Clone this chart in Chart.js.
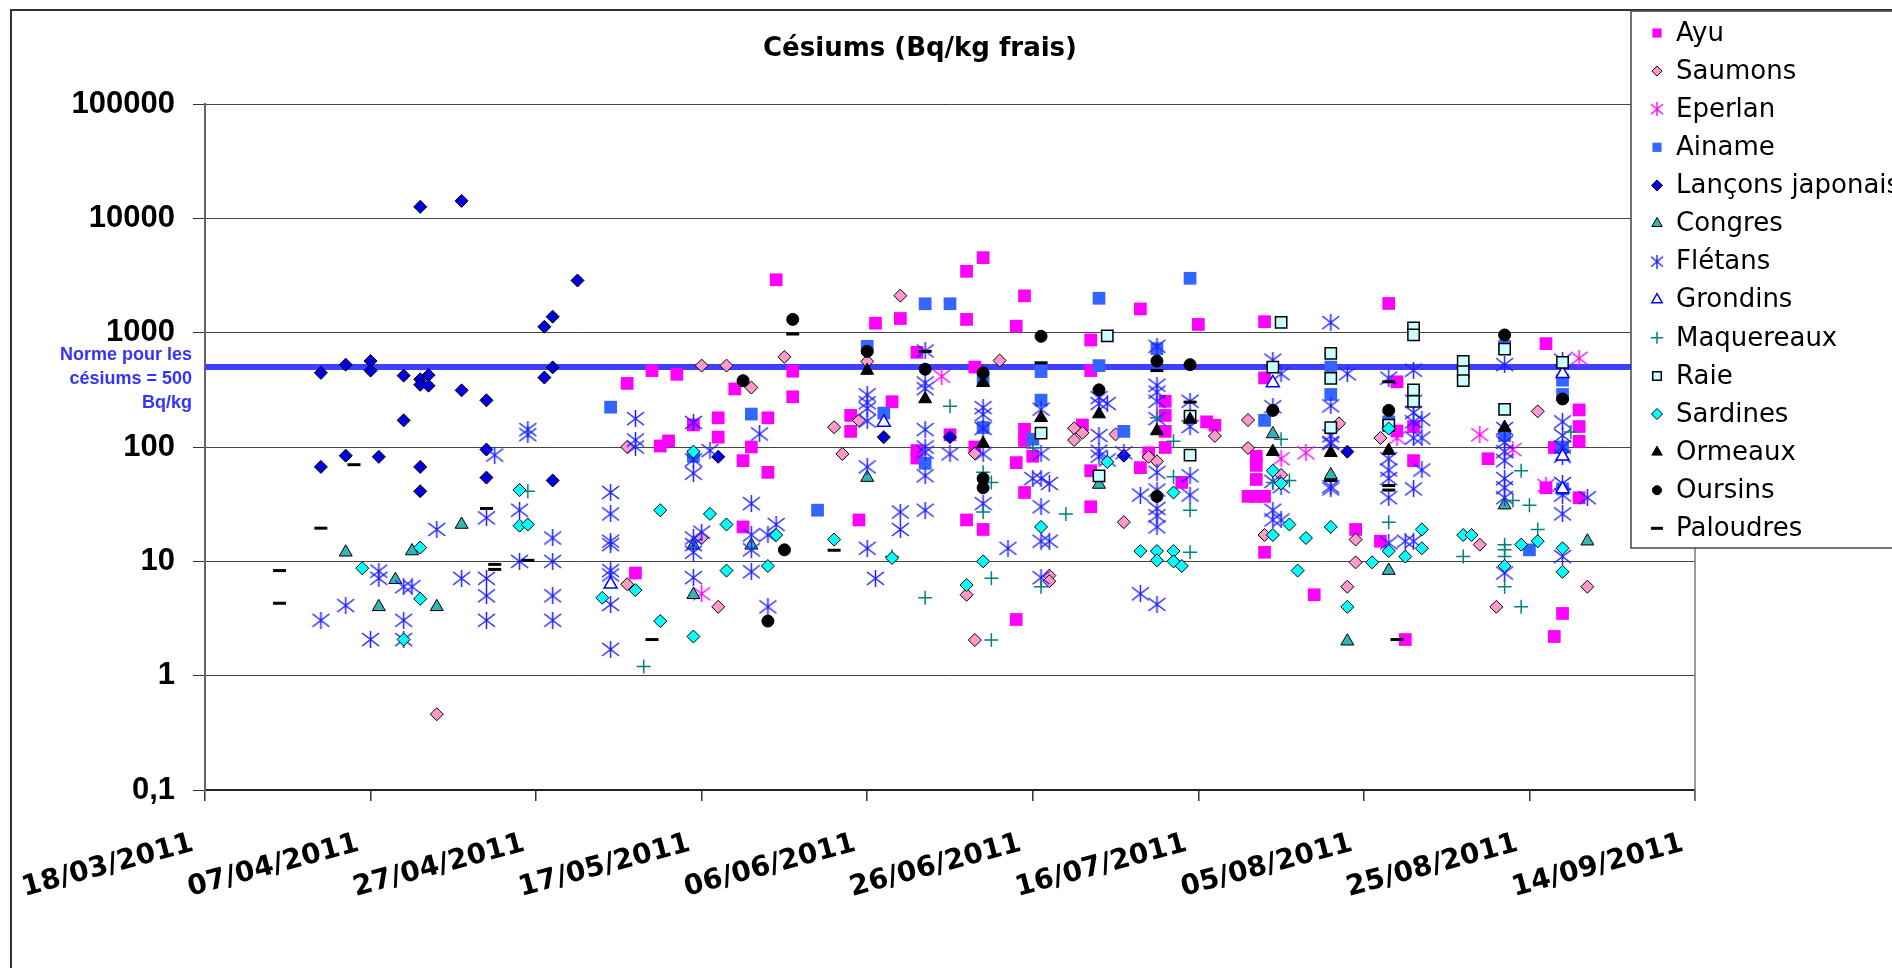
<!DOCTYPE html>
<html>
<head>
<meta charset="utf-8">
<script src="https://cdn.jsdelivr.net/npm/chart.js@4.4.1/dist/chart.umd.min.js"></script>
<style>
    html, body { margin: 0; padding: 0; background: #fff; }
    #wrap { width: 1892px; height: 968px; }
</style>
</head>
<body>
<div id="wrap"><canvas id="chart" width="1892" height="968"></canvas></div>
<script>
// x = days since 18/03/2011, y = Bq/kg frais
const startDate = Date.UTC(2011, 2, 18);
const dayTicks = [0, 20, 40, 60, 80, 100, 120, 140, 160, 180];
const decadeTicks = [0.1, 1, 10, 100, 1000, 10000, 100000];
const normValue = 500;
const normLabel = ['Norme pour les', 'césiums = 500', 'Bq/kg'];

const ayu = [[51,360],[54,466],[57,432],[56,113],[55,102],[59,156],[62,180],[62,122],[64,322],[65,76],[66,100],[68,180],[68,60],[69,2900],[65,20],[52,7.9],[71,460],[71,275],[81,1210],[84,1330],[78,189],[78,137],[83,249],[86,673],[86,93],[86,80],[92,3440],[94,4530],[92,1306],[93,500],[90,128],[93,100],[92,23],[94,19],[79,23],[99,2100],[98,1140],[99,143],[99,114],[98,73],[99,40],[100,83],[98,3.1],[107,863],[107,466],[106,156],[107,62],[107,30],[113,1614],[113,66],[114,89],[116,251],[116,189],[116,137],[116,99],[118,49],[120,1180],[121,166],[122,155],[128,1247],[128,402],[127,83],[127,69],[127,52],[126,37],[127,37],[128,37],[128,12],[134,5.1],[143,1800],[144,372],[144,138],[146,151],[146,76],[142,15],[139,19],[145,2.07],[155,79],[162,802],[163,99],[162,44],[166,211],[166,151],[166,112],[166,36],[164,3.5],[163,2.2]];
const saumons = [[28,0.46],[51,100],[60,515],[63,515],[66,331],[51,6.3],[62,4.0],[60,16],[70,614],[84,2108],[76,149],[79,171],[80,560],[77,87],[93,88],[96,570],[92,5.1],[93,2.05],[102,7.5],[102,6.7],[105,146],[106,133],[105,115],[110,129],[111,22],[114,82],[115,75],[122,125],[126,172],[126,98],[128,17],[130,57],[137,161],[142,120],[139,15.5],[139,9.8],[138,6.0],[154,14],[156,4.0],[161,205],[167,6.0]];
const eperlan = [[60,5.2],[89,415],[130,79],[133,89],[144,120],[154,128],[158,95],[162,46],[166,597]];
const ainame = [[49,223],[59,83],[66,194],[74,28],[80,760],[82,198],[87,1790],[90,1790],[87,72],[94,384],[101,457],[101,257],[100,117],[94,148],[108,2000],[108,515],[111,137],[119,2990],[128,171],[136,288],[115,724],[136,500],[160,12.6],[157,760],[164,384],[164,288],[164,43],[164,100],[143,166],[157,126]];
const lancons = [[26,12600],[31,14200],[14,445],[17,525],[20,565],[20,466],[24,421],[26,391],[26,350],[27,425],[27,344],[31,313],[34,256],[24,171],[14,67],[17,84],[21,82],[26,67],[26,41],[34,95],[34,54],[41,1127],[42,1380],[45,2860],[41,405],[42,497],[42,51],[62,82],[82,122],[90,122],[111,84],[138,91]];
const congres = [[17,12],[21,4.0],[23,6.9],[25,12.3],[28,4.0],[31,21],[59,13.8],[59,5.1],[66,13.8],[80,54],[108,47],[129,130],[136,57],[138,2.0],[143,8.3],[157,31],[167,15]];
const fletans = [[14,3.05],[17,4.1],[20,2.07],[21,8.2],[21,7.1],[24,6.0],[25,6.0],[24,3.05],[24,2.07],[28,19],[31,7.1],[34,24],[34,7.1],[34,5.0],[34,3.05],[35,85],
    [39,128],[39,142],[38,28],[38,10],[42,16],[42,10],[42,5.0],[42,3.05],[49,40],[49,26],[49,15],[49,14],[49,8.3],[49,7.6],[49,4.2],[49,1.7],[52,177],[52,115],[52,100],[59,164],[59,77],[59,59],[59,16],[59,14],[59,12],[59,7.2],[60,18],[61,93],[66,32],[66,17],[66,12.6],[66,8.1],[67,130],[68,17],[68,4.0],[69,21],
    [80,286],[80,244],[80,217],[80,169],[80,67],[80,13],[81,7.1],[84,27],[84,19],[87,692],[87,363],[87,324],[87,142],[87,100],[87,90],[87,56],[87,28],[90,87],[94,221],[94,192],[94,145],[94,87],[94,32],[97,13],[101,214],[101,87],[101,53],[101,30],[101,15],[101,7.2],[100,53],
    [102,48],[102,15],[108,270],[108,240],[108,126],[108,92],[108,83],[109,240],[109,77],[111,89],[113,38],[113,5.2],[115,760],[115,347],[115,302],[115,251],[115,177],[115,60],[115,42],[115,29],[115,25],[115,20],[115,4.2],[119,251],[119,151],[119,56],[119,38],[129,575],[130,437],[129,225],[129,50],[130,45],[129,28],[129,23],[130,23],[136,1225],[136,107],[136,45],
    [138,437],[136,229],[136,125],[136,110],[136,43],[143,400],[143,79],[143,63],[143,53],[143,36],[143,14.5],[146,470],[146,251],[146,200],[146,166],[146,120],[147,174],[147,120],[147,63],[146,43],[145,15],[146,15],[157,525],[157,145],[157,110],[157,91],[157,76],[157,53],[157,44],[157,36],[157,7.9],[164,575],[164,166],[164,126],[164,100],[164,83],[164,48],[164,38],[164,26],[164,11],[167,36]];
const grondins = [[49,6.3],[82,164],[129,363],[164,437],[164,83],[164,43]];
const maquereaux = [[39,41],[53,1.2],[90,227],[87,4.8],[94,60],[95,49],[94,27],[95,7.1],[95,2.05],[83,11],[100,98],[101,6.0],[104,26],[115,180],[117,112],[117,55],[119,28],[119,12],[130,117],[131,51],[129,49],[143,22],[152,11],[157,14],[157,12.6],[157,11],[157,6.0],[159,62],[160,31],[158,34],[161,19],[159,4.0],[165,135]];
const raie = [[101,132],[109,937],[108,56],[119,85],[119,186],[130,1230],[129,500],[136,660],[136,398],[136,148],[143,155],[146,1100],[146,955],[146,316],[146,251],[152,560],[152,457],[152,380],[157,718],[157,213],[164,550]];
const sardines = [[19,8.7],[26,13.2],[26,4.7],[24,2.07],[38,42],[38,20.5],[39,21],[48,4.8],[52,5.6],[55,28],[55,3.0],[59,91],[59,2.2],[61,26],[63,21],[63,8.3],[68,9.1],[69,17],[76,15.5],[83,10.7],[92,6.2],[94,10],[101,20],[109,74],[113,12.3],[115,12.3],[115,10.2],[117,12.3],[117,40],[117,10],[118,9.1],[129,62],[130,48],[129,17],[131,21],[133,16],[132,8.3],[136,20],[138,4.0],[141,9.8],[143,145],[143,12.3],[145,11],[147,19],[147,13],[152,17],[153,17],[159,14],[161,15],[157,9.1],[164,13],[164,8.1]];
const ormeaux = [[80,466],[87,263],[94,365],[94,107],[101,180],[108,194],[115,138],[119,174],[129,91],[136,89],[143,93],[157,148]];
const oursins = [[65,380],[68,3.0],[70,12.6],[71,1306],[80,686],[87,479],[94,445],[94,53],[94,44],[101,930],[108,316],[115,565],[119,525],[115,37],[129,209],[143,209],[157,955],[164,263]];
const palourdes = [[9,8.3],[9,4.3],[14,19.5],[18,70],[34,29],[35,9.4],[35,8.5],[39,10.2],[54,2.07],[71,973],[76,12.5],[87,686],[101,545],[115,466],[119,247],[136,51],[143,372],[143,46],[143,42],[144,2.07]];

// excel style "star" marker: X plus a vertical bar
function makeStar(color, w, h, lw) {
    const c = document.createElement('canvas');
    c.width = w; c.height = h;
    const g = c.getContext('2d');
    g.strokeStyle = color;
    g.lineWidth = lw;
    g.beginPath();
    g.moveTo(1, 2); g.lineTo(w - 1, h - 2);
    g.moveTo(w - 1, 2); g.lineTo(1, h - 2);
    g.moveTo(w / 2, 0); g.lineTo(w / 2, h);
    g.stroke();
    return c;
}

const fletanStar = makeStar('#2020ff', 19, 17, 1.5);
const eperlanStar = makeStar('#ff00ff', 19, 17, 1.5);
const fletanStarSmall = makeStar('#2020ff', 14, 14, 1.4);
const eperlanStarSmall = makeStar('#ff00ff', 14, 14, 1.4);

const series = [
    { label: 'Ayu', data: ayu, style: 'rect', r: 9, bg: '#ff00ff', bc: '#ff00ff', bw: 0, lr: 6.5 },
    { label: 'Saumons', data: saumons, style: 'rectRot', r: 6.5, bg: '#ff99cc', bc: '#000', bw: 1, lr: 5 },
    { label: 'Eperlan', data: eperlan, style: eperlanStar, legendStyle: eperlanStarSmall, r: 9, bg: '#ff00ff', bc: '#ff00ff', bw: 1 },
    { label: 'Ainame', data: ainame, style: 'rect', r: 9, bg: '#3366ff', bc: '#3366ff', bw: 0, lr: 6.5 },
    { label: 'Lançons japonais', data: lancons, style: 'rectRot', r: 6.5, bg: '#0000dd', bc: '#000', bw: 1, lr: 5.5 },
    { label: 'Congres', data: congres, style: 'triangle', r: 7.5, bg: '#33b3b3', bc: '#000', bw: 1, lr: 6 },
    { label: 'Flétans', data: fletans, style: fletanStar, legendStyle: fletanStarSmall, r: 9, bg: '#2020ff', bc: '#2020ff', bw: 1 },
    { label: 'Grondins', data: grondins, style: 'triangle', r: 7.5, bg: '#ffffff', bc: '#0000ff', bw: 1.5, lr: 6 },
    { label: 'Maquereaux', data: maquereaux, style: 'cross', r: 7, bg: '#008080', bc: '#008080', bw: 1.5, lr: 6 },
    { label: 'Raie', data: raie, style: 'rect', r: 8, bg: '#ccffff', bc: '#000', bw: 1.5, lr: 6 },
    { label: 'Sardines', data: sardines, style: 'rectRot', r: 6.5, bg: '#00ffff', bc: '#000', bw: 1, lr: 5.5 },
    { label: 'Ormeaux', data: ormeaux, style: 'triangle', r: 7.5, bg: '#000', bc: '#000', bw: 1, lr: 6 },
    { label: 'Oursins', data: oursins, style: 'circle', r: 6, bg: '#000', bc: '#000', bw: 1, lr: 4.5 },
    { label: 'Paloudres', data: palourdes, style: 'line', r: 6.5, bg: '#000', bc: '#000', bw: 3, lr: 6 }
];

const datasets = series.map((s, i) => ({
    label: s.label,
    data: s.data.map(([d, v]) => ({ x: d, y: v })),
    pointStyle: s.style,
    pointRadius: s.r,
    backgroundColor: s.bg,
    borderColor: s.bc,
    borderWidth: s.bw,
    showLine: false,
    order: -i   // excel draws later series on top
}));

datasets.push({
    type: 'line',
    label: 'norme',
    data: [{ x: dayTicks[0], y: normValue }, { x: dayTicks[dayTicks.length - 1], y: normValue }],
    borderColor: '#3f3fff',
    borderWidth: 6,
    pointRadius: 0,
    order: 50
});

function fmtDay(v) {
    const d = new Date(startDate + v * 86400000);
    const p = n => String(n).padStart(2, '0');
    return p(d.getUTCDate()) + '/' + p(d.getUTCMonth() + 1) + '/' + d.getUTCFullYear();
}

const decor = {
    id: 'decor',
    beforeDraw(chart) {
        const ctx = chart.ctx;
        ctx.save();
        ctx.fillStyle = '#fff';
        ctx.fillRect(0, 0, chart.width, chart.height);
        ctx.strokeStyle = '#333';
        ctx.lineWidth = 2;
        ctx.beginPath();
        ctx.moveTo(11, chart.height);
        ctx.lineTo(11, 10);
        ctx.lineTo(chart.width, 10);
        ctx.stroke();
        ctx.restore();
    },
    beforeDatasetsDraw(chart) {
        const { ctx, chartArea } = chart;
        ctx.save();
        ctx.strokeStyle = '#777';
        ctx.lineWidth = 1.5;
        ctx.beginPath();
        ctx.moveTo(chartArea.right, chartArea.top);
        ctx.lineTo(chartArea.right, chartArea.bottom + 11);
        ctx.stroke();
        ctx.restore();
    },
    afterDraw(chart) {
        const ctx = chart.ctx;
        ctx.save();

        // title
        ctx.fillStyle = '#000';
        ctx.font = 'bold 26px "DejaVu Sans"';
        ctx.textAlign = 'center';
        ctx.textBaseline = 'middle';
        ctx.fillText('Césiums (Bq/kg frais)', 920, 49);

        // norm label
        ctx.fillStyle = '#3333ff';
        ctx.font = 'bold 18px "Liberation Sans"';
        ctx.textAlign = 'right';
        normLabel.forEach((t, i) => ctx.fillText(t, 192, 355 + i * 24));

        // legend
        const lx = 1631, ly = 11, lh = 537;
        ctx.fillStyle = '#fff';
        ctx.fillRect(lx, ly, chart.width - lx + 5, lh);
        ctx.strokeStyle = '#444';
        ctx.lineWidth = 1.5;
        ctx.strokeRect(lx, ly, chart.width - lx + 5, lh);

        ctx.font = '26px "DejaVu Sans"';
        ctx.textAlign = 'left';
        series.forEach((s, i) => {
            const y = 33 + i * 38.1;
            ctx.fillStyle = s.bg;
            ctx.strokeStyle = s.bc;
            ctx.lineWidth = s.bw;
            Chart.helpers.drawPoint(ctx, {
                pointStyle: s.legendStyle || s.style,
                radius: s.lr || s.r,
                borderWidth: s.bw,
                rotation: 0
            }, 1657, y);
            ctx.fillStyle = '#000';
            ctx.fillText(s.label, 1676, y + 1);
        });
        ctx.restore();
    }
};

new Chart(document.getElementById('chart'), {
    type: 'scatter',
    data: { datasets },
    options: {
        responsive: false,
        animation: false,
        events: [],
        layout: { padding: { top: 104, right: 197, left: 0, bottom: 0 } },
        plugins: {
            legend: { display: false },
            title: { display: false },
            tooltip: { enabled: false }
        },
        scales: {
            x: {
                type: 'linear',
                min: dayTicks[0],
                max: dayTicks[dayTicks.length - 1],
                afterFit: s => { s.height = 178; },
                afterBuildTicks: s => { s.ticks = dayTicks.map(v => ({ value: v })); },
                grid: { drawOnChartArea: false, drawTicks: true, tickLength: 11, color: '#333', lineWidth: 1.5 },
                border: { color: '#222', width: 2 },
                ticks: {
                    autoSkip: false,
                    minRotation: 15,
                    maxRotation: 15,
                    padding: 26,
                    labelOffset: -12,
                    color: '#000',
                    font: { family: 'DejaVu Sans', size: 28, weight: 'bold' },
                    callback: v => fmtDay(v)
                }
            },
            y: {
                type: 'logarithmic',
                min: decadeTicks[0],
                max: decadeTicks[decadeTicks.length - 1],
                afterFit: s => { s.width = 205; },
                afterBuildTicks: s => { s.ticks = decadeTicks.map(v => ({ value: v })); },
                grid: { color: '#444', lineWidth: 1, drawTicks: true, tickLength: 12, tickColor: '#333' },
                border: { color: '#666', width: 2 },
                ticks: {
                    padding: 18,
                    color: '#000',
                    font: { family: 'Liberation Sans', size: 31, weight: 'bold' },
                    callback: v => (v < 1 ? String(v).replace('.', ',') : String(Math.round(v)))
                }
            }
        }
    },
    plugins: [decor]
});
</script>
</body>
</html>
